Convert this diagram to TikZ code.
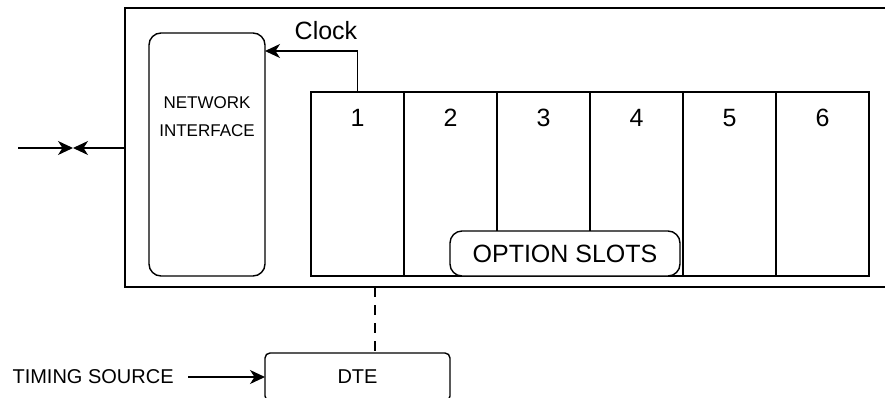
\documentclass[tikz,border=0pt]{standalone}
\usepackage{fontspec}
\setmainfont{Liberation Sans}
\usetikzlibrary{arrows.meta,positioning,calc}
\tikzset{
  box/.style={draw, line width=1.4pt, inner sep=0pt, outer sep=0pt},
  slotbox/.style={box, minimum width=93pt, minimum height=184pt},
  big/.style={font=\fontsize{25}{28}\selectfont},
  mid/.style={font=\fontsize{20}{24}\selectfont},
  small/.style={font=\fontsize{17}{20}\selectfont},
  conn/.style={line width=1.4pt},
  tip/.style={-{Stealth[length=15pt,width=14pt,inset=4.5pt]}},
}
\begin{document}
\begin{tikzpicture}[x=1pt,y=-1pt]
\useasboundingbox (0,0) rectangle (885,397);
\clip (0,0) rectangle (885,397);
% outer chassis
\node[box, minimum width=780pt, minimum height=279pt] (outer) at (515,147.5) {};
% network interface
\node[box, rounded corners=12pt, minimum width=116pt, minimum height=243pt] (ni) at (207,154.5) {};
\node[small, align=center] (nitext) at (207,117) {NETWORK\\[8pt]INTERFACE};
% slots
\foreach \i/\x in {1/357.5,2/450.5,3/543.5,4/636.5,5/729.5,6/822.5}{
  \node[slotbox] (s\i) at (\x,184) {};
  \node[big] (n\i) at (\x,118) {\i};
}
% option slots label
\node[box, fill=white, rounded corners=12pt, minimum width=230pt, minimum height=45pt, big]
  (opt) at (565,253.5) {OPTION SLOTS};
% clock
\coordinate (clk) at (265,51);
\draw[conn, tip] (s1.north) |- (clk);
\node[big] (clocklbl) at (326,31) {Clock};
% network line arrows
\coordinate (lin) at (18,148);
\coordinate (meet) at (73,148);
\draw[conn, tip] (lin) -- (meet);
\draw[conn, tip] (outer.west |- meet) -- (meet);
% DTE
\node[box, rounded corners=5pt, minimum width=185pt, minimum height=48pt, mid]
  (dte) at (357.5,377) {DTE};
\coordinate (dtop) at (375,287);
\coordinate (dbot) at (375,353);
\draw[conn, dash pattern=on 10pt off 8pt] (dtop) -- (dbot);
% timing source
\node[mid, anchor=west] (ts) at (9,377) {TIMING SOURCE};
\coordinate (tsend) at (188,377);
\draw[conn, tip] (tsend) -- (dte.west);
\end{tikzpicture}
\end{document}
